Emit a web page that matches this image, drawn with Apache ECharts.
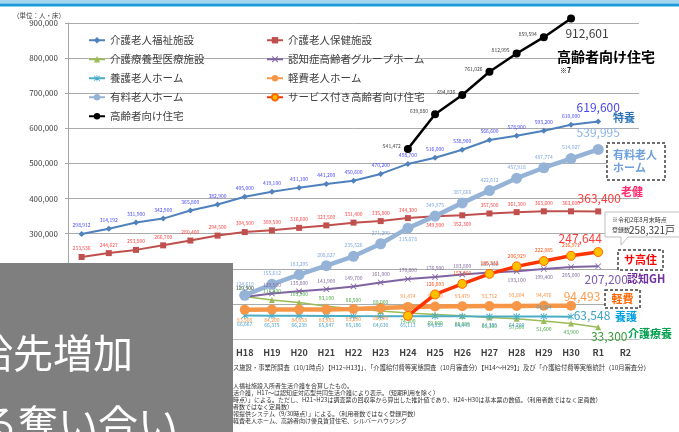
<!DOCTYPE html>
<html><head><meta charset="utf-8">
<script src="https://cdn.jsdelivr.net/npm/echarts/dist/echarts.min.js"></script>
<style>html,body{margin:0;padding:0;background:#fff;}#c{width:679px;height:432px;}</style>
</head><body><div id="c"></div>
<script>
const categories = ['H12','H13','H14','H15','H16','H17','H18','H19','H20','H21','H22','H23','H24','H25','H26','H27','H28','H29','H30','R1','R2'];
const yTicks = {min: 0, max: 900000, step: 100000};
const fukushi  = [298912,314192,331900,342900,365800,382900,405000,419100,431100,441200,450600,470200,498700,516000,538900,566600,578900,593200,610000,619600,null];
const hoken    = [233536,244627,253800,266700,280400,294500,304500,309500,316600,323500,331400,335800,344300,349900,352300,357500,361300,363600,363600,363400,null];
const ryoyo    = [null,null,null,null,null,null,120900,111400,103900,93100,86500,80000,74200,69800,66000,61300,57500,51600,43900,33300,null];
const gh       = [null,null,null,null,null,null,119500,129500,135800,141900,149700,161000,170800,176900,183800,189400,193100,199400,205000,207200,null];
const yogo     = [null,null,null,null,null,null,66667,66375,66239,65847,65186,64630,65113,64830,64443,64385,64200,64084,63548,null,null];
const keihi    = [null,null,null,null,null,null,83500,84200,84053,83983,85200,88300,91474,92500,93479,93712,93804,94476,94493,null,null];
const yuryo    = [null,null,null,null,null,null,124610,155612,183295,208827,235526,271290,315678,349975,387666,422612,457918,487774,514027,539995,null];
const sakoju   = [null,null,null,null,null,null,null,null,null,null,null,null,66000,126803,157000,185512,206929,222085,236971,247644,null];
const koreisha = [null,null,null,null,null,null,null,null,null,null,null,null,541472,639880,694826,761026,812995,859594,912601,null,null];

const F = '"Noto Sans CJK JP","Noto Sans",sans-serif';
const fmt = v => String(v).replace(/\B(?=(\d{3})+(?!\d))/g, ',');
const X_PATH = 'path://M0,1L1,0L5,4L9,0L10,1L6,5L10,9L9,10L5,6L1,10L0,9L4,5Z';
const AST_PATH = 'path://M0,1L1,0L5,4L9,0L10,1L6,5L10,9L9,10L5,6L1,10L0,9L4,5Z M4.4,-1L5.6,-1L5.6,11L4.4,11Z';

function lastIdx(d){ let l=-1; d.forEach((v,i)=>{ if(v!=null) l=i; }); return l; }

function mk(name, data, o){
  const last = lastIdx(data);
  return {
    name, type:'line', clip:false, data: data.map((v,i)=>{
      if (v==null) return null;
      if (i===last) return {value:v, label:{show:true, position:'inside', offset:o.bigOff, fontSize:12, color:o.bigColor, fontFamily:F}};
      const p = o.pos ? o.pos(i) : 'top';
      if (p==='none') return {value:v, label:{show:false}};
      if (typeof p === 'object') return {value:v, label:{position:p.p, offset:p.o}};
      return {value:v, label:{position:p}};
    }),
    symbol:o.symbol, symbolSize:o.size, z:o.z||2,
    lineStyle:{color:o.line||o.color, width:o.width},
    itemStyle:Object.assign({color:o.color}, o.item||{}),
    label:{show:true, fontSize:5, color:o.lc, distance:3, fontFamily:F, formatter:p=>fmt(p.value)},
    emphasis:{disabled:true}
  };
}

const series = [
  mk('介護老人福祉施設', fukushi, {symbol:'diamond', size:6, color:'#4f81bd', width:2, lc:'#4646ff', bigOff:[0,-14], bigColor:'#4646f0'}),
  mk('介護老人保健施設', hoken, {symbol:'rect', size:6, color:'#c0504d', width:2, lc:'#ff4646', bigOff:[1,-13], bigColor:'#ff3b3b', pos:i=>(i===13||i===14)?'bottom':'top'}),
  mk('介護療養型医療施設', ryoyo, {symbol:'triangle', size:6, color:'#9bbb59', width:1.5, lc:'#46a846', bigOff:[11,9], bigColor:'#3a9b3a', pos:i=>i<=11?'top':'bottom'}),
  mk('認知症高齢者グループホーム', gh, {symbol:X_PATH, size:6, color:'#8064a2', width:2, lc:'#7f6a9f', bigOff:[8,13], bigColor:'#7a5ab0', pos:i=>(i>=16)?'bottom':'top'}),
  mk('養護老人ホーム', yogo, {symbol:AST_PATH, size:7, color:'#4bacc6', width:2, lc:'#4ba3c3', bigOff:[21,-1], bigColor:'#39a3c6', pos:i=>i===17?'top':'bottom'}),
  mk('軽費老人ホーム', keihi, {symbol:'circle', size:10, color:'#f79646', width:4.5, lc:'#ff9040', bigOff:[11,-9], bigColor:'#ff9a4c', pos:i=>i>=12?'top':'bottom'}),
  mk('有料老人ホーム', yuryo, {symbol:'circle', size:11, color:'#95b3d7', width:4.5, lc:'#7fa7dd', bigOff:[0,-17], bigColor:'#8db4e2', pos:i=>i===12?'bottom':'top'}),
  mk('サービス付き高齢者向け住宅', sakoju, {symbol:'circle', size:9, color:'#ffc000', line:'#ff3300', width:3.5, item:{borderColor:'#ff6600', borderWidth:1}, lc:'#ff5010', bigOff:[-18,-14], bigColor:'#ff3b3b', pos:i=>i===12?'none':'top', z:3}),
  mk('高齢者向け住宅', koreisha, {symbol:'circle', size:8, color:'#000000', width:2.5, lc:'#404040', bigOff:[16,15], bigColor:'#404040', pos:()=>({p:'left', o:[0,-3]}), z:3})
];

function txt(x, y, text, size, color, bold, align, z){
  return {type:'text', x, y, z:z||50, style:{text, fill:color, font:(bold?'bold ':'')+size+'px '+F, align:align||'left', verticalAlign:'middle', textAlign:align||'left', textVerticalAlign:'middle'}};
}
function dashBox(x,y,w,h){
  return {type:'rect', z:45, shape:{x,y,width:w,height:h}, style:{fill:'#fff', stroke:'#404040', lineWidth:1.5, lineDash:[3,2]}};
}

const graphics = [
  {type:'rect', z:60, shape:{x:0,y:0,width:679,height:3.5}, style:{fill:'#a3d5ed'}},
  {type:'rect', z:60, shape:{x:0,y:3.5,width:679,height:3}, style:{fill:'#1b9cd8'}},
  txt(13, 15.5, '（単位：人・床）', 6.5, '#404040'),
  txt(557, 57, '高齢者向け住宅', 14, '#000', true),
  txt(560, 70, '※7', 7, '#000', true),
  txt(613, 118, '特養', 11, '#2e75b6', true),
  dashBox(607,143,58,37),
  txt(613, 155, '有料老人', 11, '#6f9fdc', true),
  txt(613, 168, 'ホーム', 11, '#6f9fdc', true),
  txt(621, 192, '老健', 11, '#ff2d6f', true),
  {type:'polygon', z:45, shape:{points:[[605,212],[682,212],[682,237],[628,237],[621,245],[621,237],[605,237]]}, style:{fill:'#fff', stroke:'#bfbfbf', lineWidth:1}},
  txt(612, 220, '※令和2年8月末時点', 6, '#404040'),
  txt(612, 230, '登録数', 6, '#404040'),
  txt(629, 230, '258,321戸', 10, '#404040'),
  dashBox(618,250,45,20),
  txt(640.5, 260, 'サ高住', 11, '#ff0000', true, 'center'),
  txt(627, 279, '認知GH', 11, '#7030a0', true),
  dashBox(605,290,35,18),
  txt(622.5, 299, '軽費', 11, '#ff6600', true, 'center'),
  txt(615, 317, '養護', 11, '#00a0e0', true),
  txt(628, 334, '介護療養', 11, '#00a050', true),
  txt(233, 368, 'ス施設・事業所調査（10/1時点）【H12~H13】」、「介護給付費等実態調査（10月審査分）【H14～H29】」及び「介護給付費等実態統計（10月審査分）', 6.3, '#333'),
  txt(233, 386, '人福祉施設入所者生活介護を合算したもの。', 6, '#333'),
  txt(233, 393, '活介護，H17～は認知症対応型共同生活介護により表示。（短期利用を除く）', 6, '#333'),
  txt(233, 400, '時点）」による。ただし、H21~H23は調査票の回収率から算出した推計値であり、H24~H30は基本票の数値。（利用者数ではなく定員数）', 6, '#333'),
  txt(233, 407, '者数ではなく定員数）', 6, '#333'),
  txt(233, 414, '報提供システム（9/30時点）」による。（利用者数ではなく登録戸数）', 6, '#333'),
  txt(233, 421, '軽費老人ホーム、高齢者向け優良賃貸住宅、シルバーハウジング', 6, '#333'),
  {type:'rect', z:100, shape:{x:0,y:263,width:233,height:169}, style:{fill:'#7f7f7f'}},
  txt(-67, 353, '供給先増加', 40, '#ffffff', false, 'left', 101),
  txt(-22, 424, 'る奪い合い', 40, '#ffffff', false, 'left', 101)
];

const legendCommon = {orient:'vertical', padding:0, itemWidth:16, itemHeight:8, itemGap:8.5, textStyle:{fontSize:10.5, color:'#404040', fontFamily:F}, selectedMode:false};

const chart = echarts.init(document.getElementById('c'), null, {renderer:'canvas'});
chart.setOption({
  animation:false,
  backgroundColor:'#ffffff',
  textStyle:{fontFamily:F},
  grid:{left:68, right:40, top:23, bottom:93, containLabel:false},
  legend:[
    Object.assign({left:88, top:35, data:['介護老人福祉施設','介護療養型医療施設','養護老人ホーム','有料老人ホーム','高齢者向け住宅']}, legendCommon),
    Object.assign({left:266, top:35, data:['介護老人保健施設','認知症高齢者グループホーム','軽費老人ホーム','サービス付き高齢者向け住宅']}, legendCommon)
  ],
  xAxis:{type:'category', data:categories, boundaryGap:true,
    axisLine:{lineStyle:{color:'#bfbfbf'}}, axisTick:{length:4, lineStyle:{color:'#bfbfbf'}},
    axisLabel:{interval:0, fontSize:9, fontWeight:'bold', color:'#404040', margin:9, fontFamily:F}},
  yAxis:{type:'value', min:yTicks.min, max:yTicks.max, interval:yTicks.step,
    axisLine:{show:true, lineStyle:{color:'#a6a6a6'}}, axisTick:{show:true, length:3, lineStyle:{color:'#a6a6a6'}},
    axisLabel:{fontSize:8, color:'#404040', margin:10, fontFamily:F, formatter:v=>fmt(v)},
    splitLine:{lineStyle:{color:'#ababab', width:1}}},
  series,
  graphic:{elements:graphics}
});
</script></body></html>
